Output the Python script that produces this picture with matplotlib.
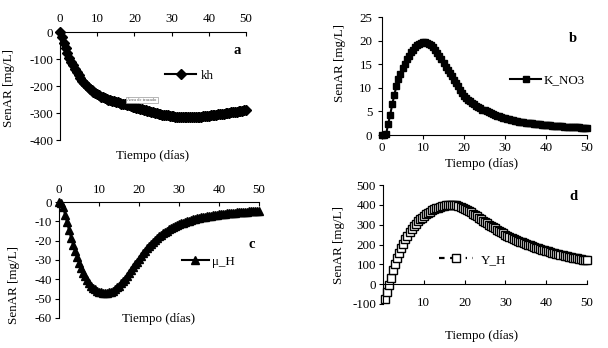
import numpy as np
import matplotlib
matplotlib.use("Agg")
import matplotlib.pyplot as plt

plt.rcParams['font.family'] = ['Liberation Serif', 'DejaVu Serif']
plt.rcParams['axes.unicode_minus'] = False

# tiempo en dias, paso de 0.5
dias = np.arange(0, 50.5, 0.5)

kh = [0, -20, -40, -60, -78, -95, -110, -124, -137, -149,
      -160, -170, -180, -188, -196, -203, -210, -216, -221, -226,
      -231, -235, -239, -242, -245, -248, -251, -253, -255, -257,
      -259, -261, -263, -265, -266, -268, -270, -272, -274, -276,
      -278, -280, -282, -284, -286, -288, -290, -292, -294, -296,
      -298, -300, -301, -303, -304, -306, -307, -308, -309, -310,
      -311, -312, -313, -313, -314, -314, -315, -315, -315, -315,
      -315, -315, -315, -314, -314, -313, -313, -312, -311, -311,
      -310, -309, -308, -307, -306, -305, -304, -303, -302, -301,
      -300, -299, -298, -297, -296, -295, -294, -293, -292, -290,
      -288]

k_no3 = [0, 0, 0.2, 2.3, 4.3, 6.5, 8.5, 10.3, 11.8, 13.0,
         14.1, 15.1, 16.0, 16.8, 17.5, 18.1, 18.6, 19.0, 19.3, 19.5,
         19.6, 19.6, 19.5, 19.3, 19.0, 18.6, 18.0, 17.4, 16.7, 16.0,
         15.2, 14.5, 13.8, 13.1, 12.4, 11.7, 11.0, 10.3, 9.6, 8.9,
         8.3, 7.9, 7.5, 7.1, 6.8, 6.5, 6.2, 5.9, 5.7, 5.4,
         5.2, 5.0, 4.8, 4.6, 4.4, 4.25, 4.1, 3.95, 3.8, 3.65,
         3.5, 3.4, 3.3, 3.2, 3.1, 3.0, 2.9, 2.83, 2.75, 2.68,
         2.6, 2.55, 2.5, 2.45, 2.4, 2.35, 2.3, 2.25, 2.2, 2.15,
         2.1, 2.07, 2.03, 2.0, 1.96, 1.93, 1.9, 1.87, 1.84, 1.8,
         1.77, 1.74, 1.71, 1.68, 1.65, 1.62, 1.59, 1.56, 1.53, 1.51,
         1.5]

mu_h = [0, -0.3, -2.5, -6.5, -10.5, -14.5, -18.5, -22, -25.5, -28.5,
        -31.5, -34, -36.5, -38.5, -40.3, -41.9, -43.2, -44.3, -45.2, -45.9,
        -46.4, -46.8, -47.0, -47.1, -47.0, -46.8, -46.4, -45.8, -45.1, -44.2,
        -43.2, -42.1, -40.9, -39.6, -38.2, -36.8, -35.3, -33.8, -32.3, -30.8,
        -29.3, -27.9, -26.5, -25.2, -24.0, -22.8, -21.7, -20.6, -19.6, -18.7,
        -17.8, -17.0, -16.2, -15.5, -14.8, -14.2, -13.6, -13.0, -12.5, -12.0,
        -11.5, -11.1, -10.7, -10.3, -9.9, -9.6, -9.3, -9.0, -8.7, -8.4,
        -8.2, -8.0, -7.8, -7.6, -7.4, -7.2, -7.0, -6.9, -6.7, -6.6,
        -6.4, -6.3, -6.2, -6.1, -5.9, -5.8, -5.7, -5.6, -5.5, -5.4,
        -5.3, -5.2, -5.1, -5.0, -4.95, -4.9, -4.8, -4.7, -4.65, -4.6,
        -4.5]

# Y_H empieza en t=0.5
y_h = [-75, -40, -5, 33, 70, 103, 132, 158, 182, 205,
       226, 245, 262, 277, 291, 304, 316, 327, 336, 345,
       353, 360, 366, 372, 377, 382, 386, 389, 392, 395,
       397, 399, 400, 400, 399, 397, 394, 390, 386, 381,
       375, 369, 363, 356, 349, 342, 335, 328, 321, 314,
       307, 300, 294, 287, 281, 274, 268, 262, 256, 250,
       245, 239, 234, 229, 224, 220, 215, 211, 206, 202,
       198, 195, 191, 187, 184, 180, 177, 174, 171, 168,
       165, 162, 159, 157, 154, 151, 149, 146, 144, 141,
       139, 137, 134, 132, 130, 128, 126, 124, 122, 120]

W, H = 608, 348
fig = plt.figure(figsize=(W / 100, H / 100), dpi=100)


def px_ax(l, t, r, b):
    return fig.add_axes([l / W, 1 - b / H, (r - l) / W, (b - t) / H])


def px_text(x, y, s, **kw):
    fig.text(x / W, 1 - y / H, s, ha='center', va='center', **kw)


fs = 9.4

# ---- a: kh ----
ax = px_ax(60, 32, 246, 140)
ax.plot(dias, kh, '-', color='black', marker='D', ms=5.5, lw=1.5, clip_on=False, label='kh')
ax.set_xlim(0, 50)
ax.set_ylim(-400, 0)
ax.set_xticks(range(0, 51, 10))
ax.set_yticks(range(-400, 1, 100))
ax.xaxis.tick_top()
ax.spines['bottom'].set_visible(False)
ax.spines['right'].set_visible(False)
ax.tick_params(axis='x', direction='in', length=3, pad=5, labelsize=fs)
ax.tick_params(axis='y', direction='out', length=3, pad=2, labelsize=fs)
ax.set_ylabel('SenAR [mg/L]', fontsize=fs)
ax.yaxis.set_label_coords(-0.242, 0.486)
ax.legend(loc='center left', bbox_to_anchor=(0.565, 0.593), frameon=False, fontsize=fs,
          borderpad=0, borderaxespad=0, handlelength=2.4, handletextpad=0.3)
px_text(153, 156, 'Tiempo (días)', fontsize=fs)
px_text(237, 51, 'a', fontsize=10.5, fontweight='bold')
px_text(142, 100, 'Área de trazado', fontsize=3.3, color='#555555',
        bbox=dict(boxstyle='square,pad=0.3', fc='white', ec='#999999', lw=0.5))

# ---- b: K_NO3 ----
ax = px_ax(382, 17, 587, 135)
ax.plot(dias, k_no3, '-', color='black', marker='s', ms=4.6, lw=1.5, clip_on=False, label='K_NO3')
ax.set_xlim(0, 50)
ax.set_ylim(0, 25)
ax.set_xticks(range(0, 51, 10))
ax.set_yticks(range(0, 26, 5))
ax.spines['top'].set_visible(False)
ax.spines['right'].set_visible(False)
ax.tick_params(direction='out', length=3, labelsize=fs)
ax.tick_params(axis='y', pad=4)
ax.tick_params(axis='x', pad=2)
ax.set_ylabel('SenAR [mg/L]', fontsize=fs)
ax.yaxis.set_label_coords(-0.176, 0.61)
ax.legend(loc='center left', bbox_to_anchor=(0.624, 0.466), frameon=False, fontsize=fs,
          borderpad=0, borderaxespad=0, handlelength=2.4, handletextpad=0.2)
px_text(482, 164, 'Tiempo (días)', fontsize=fs)
px_text(573, 38, 'b', fontsize=10.5, fontweight='bold')

# ---- c: mu_H ----
ax = px_ax(59, 202, 259, 318)
ax.plot(dias, mu_h, '-', color='black', marker='^', ms=5.5, lw=1.5, clip_on=False, label='μ_H')
ax.set_xlim(0, 50)
ax.set_ylim(-60, 0)
ax.set_xticks(range(0, 51, 10))
ax.set_yticks(range(-60, 1, 10))
ax.xaxis.tick_top()
ax.spines['bottom'].set_visible(False)
ax.spines['right'].set_visible(False)
ax.tick_params(axis='x', direction='in', length=3, pad=4, labelsize=fs)
ax.tick_params(axis='y', direction='out', length=3, pad=2, labelsize=fs)
ax.set_ylabel('SenAR [mg/L]', fontsize=fs)
ax.yaxis.set_label_coords(-0.195, 0.287)
ax.legend(loc='center left', bbox_to_anchor=(0.613, 0.485), frameon=False, fontsize=fs,
          borderpad=0, borderaxespad=0, handlelength=2.1, handletextpad=0.2)
px_text(159, 319, 'Tiempo (días)', fontsize=fs)
px_text(252, 245, 'c', fontsize=10.5, fontweight='bold')

# ---- d: Y_H ----
ax = px_ax(383, 185, 587, 304)
ax.plot(dias[1:], y_h, color='black', ls=(0, (2.5, 2.5, 4.5, 2.5, 0.6, 2.5)), marker='s', ms=5.8,
        mfc='white', mec='black', mew=1.0, lw=1.6, clip_on=False, label='Y_H')
ax.set_xlim(0, 50)
ax.set_ylim(-100, 500)
ax.set_xticks(range(10, 51, 10))
ax.set_yticks(range(-100, 501, 100))
ax.spines['bottom'].set_position(('data', 0))
ax.spines['top'].set_visible(False)
ax.spines['right'].set_visible(False)
ax.tick_params(axis='x', direction='in', length=3, pad=9, labelsize=fs)
ax.tick_params(axis='y', direction='out', length=3, pad=2, labelsize=fs)
ax.set_ylabel('SenAR [mg/L]', fontsize=fs)
ax.yaxis.set_label_coords(-0.186, 0.5)
ax.legend(loc='center left', bbox_to_anchor=(0.275, 0.37), frameon=False, fontsize=fs,
          borderpad=0, borderaxespad=0, handlelength=2.6, handletextpad=0.6)
px_text(482, 336, 'Tiempo (días)', fontsize=fs)
px_text(573, 197, 'd', fontsize=10.5, fontweight='bold')

fig.savefig('out.png', dpi=100)
